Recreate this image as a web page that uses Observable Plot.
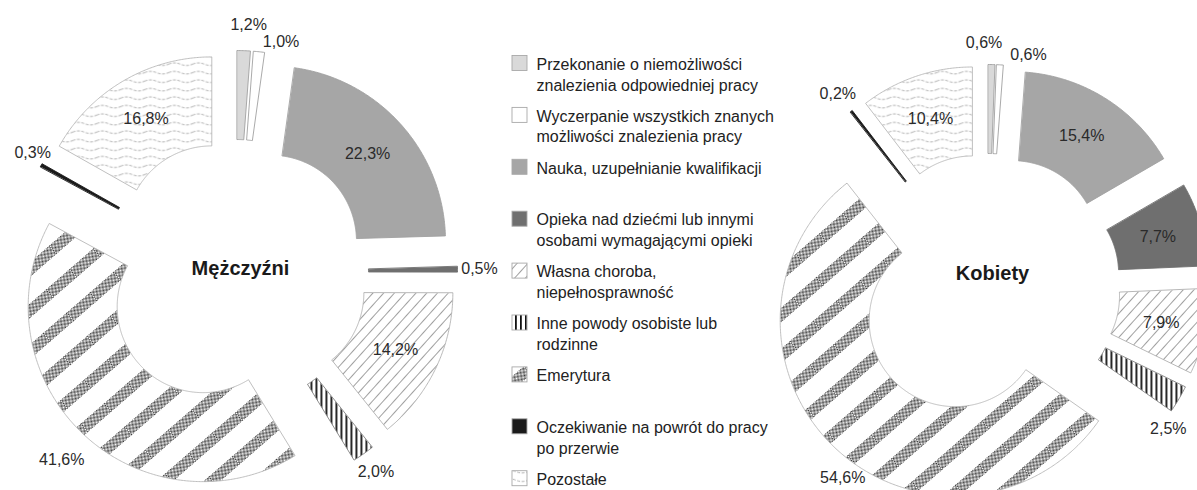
<!DOCTYPE html>
<html>
<head>
<meta charset="utf-8">
<script src="https://cdn.jsdelivr.net/npm/d3@7"></script>
<script src="https://cdn.jsdelivr.net/npm/@observablehq/plot@0.6"></script>
<style>
  html, body { margin: 0; padding: 0; background: #fff; }
  #chart svg { display: block; }
  #defs { position: absolute; width: 0; height: 0; overflow: hidden; }
</style>
</head>
<body>
<svg id="defs" width="0" height="0" aria-hidden="true">
  <defs>
    <pattern id="pChoroba" patternUnits="userSpaceOnUse" width="8" height="8" patternTransform="rotate(42)">
      <rect width="8" height="8" fill="#fff"/>
      <line x1="0.5" y1="0" x2="0.5" y2="8" stroke="#959595" stroke-width="0.9"/>
    </pattern>
    <pattern id="pInne" patternUnits="userSpaceOnUse" width="5" height="5">
      <rect width="5" height="5" fill="#fff"/>
      <rect x="0" y="0" width="1.8" height="5" fill="#111"/>
    </pattern>
    <pattern id="pCheck" patternUnits="userSpaceOnUse" width="2" height="2">
      <rect width="2" height="2" fill="#fff"/>
      <rect x="0" y="0" width="1" height="1" fill="#3a3a3a"/>
      <rect x="1" y="1" width="1" height="1" fill="#3a3a3a"/>
    </pattern>
    <pattern id="pEmer" patternUnits="userSpaceOnUse" width="31" height="31" patternTransform="rotate(49)">
      <rect width="31" height="31" fill="#fff"/>
      <rect x="0" y="0" width="11" height="31" fill="url(#pCheck)"/>
    </pattern>
    <pattern id="pPoz" patternUnits="userSpaceOnUse" width="24" height="8.5">
      <rect width="24" height="8.5" fill="#fff"/>
      <path d="M0,4.2 Q6,1.6 12,4.2 T24,4.2" fill="none" stroke="#9c9c9c" stroke-width="0.8" stroke-dasharray="3 1.5"/>
    </pattern>
  </defs>
</svg>
<div id="chart"></div>
<script>
// ---------- data ----------
const categories = [
  "Przekonanie o niemożliwości znalezienia odpowiedniej pracy",
  "Wyczerpanie wszystkich znanych możliwości znalezienia pracy",
  "Nauka, uzupełnianie kwalifikacji",
  "Opieka nad dziećmi lub innymi osobami wymagającymi opieki",
  "Własna choroba, niepełnosprawność",
  "Inne powody osobiste lub rodzinne",
  "Emerytura",
  "Oczekiwanie na powrót do pracy po przerwie",
  "Pozostałe"
];
const legendLabels = [
  "Przekonanie o niemożliwości\nznalezienia odpowiedniej pracy",
  "Wyczerpanie wszystkich znanych\nmożliwości znalezienia pracy",
  "Nauka, uzupełnianie kwalifikacji",
  "Opieka nad dziećmi lub innymi\nosobami wymagającymi opieki",
  "Własna choroba,\nniepełnosprawność",
  "Inne powody osobiste lub\nrodzinne",
  "Emerytura",
  "Oczekiwanie na powrót do pracy\npo przerwie",
  "Pozostałe"
];
const menValues   = [1.2, 1.0, 22.3, 0.5, 14.2, 2.0, 41.6, 0.3, 16.8];
const womenValues = [0.6, 0.6, 15.4, 7.7, 7.9, 2.5, 54.6, 0.2, 10.4];
const chartTitles = ["Mężczyźni", "Kobiety"];

// ---------- styles / layout ----------
const fills = ["#d9d9d9", "#ffffff", "#a6a6a6", "#6f6f6f", "url(#pChoroba)", "url(#pInne)", "url(#pEmer)", "#1a1a1a", "url(#pPoz)"];
const strokes = ["#a0a0a0", "#a0a0a0", "#a0a0a0", "#6f6f6f", "#b0b0b0", "#808080", "#b8b8b8", "#1a1a1a", "#b8b8b8"];
const W = 1197, H = 490;
const layout = [
  {cx: 235, cy: 272, titleDx: 5, titleDy: -4},
  {cx: 987, cy: 286, titleDx: 5, titleDy: -13}
];
const rIn = 86, rOut = 175, explode = 47, labelGap = 22;
const outsideCats = new Set(["Emerytura"]);
const labelNudge = {"0-0": [4, -4], "0-6": [-6, 10], "0-7": [9, -2], "1-0": [-8, 0], "1-5": [0, 18], "1-6": [23, 14]};
const legendX = 512, legendSwatch = 15, legendTextX = 536, legendTop = 54.5, legendStep = 51.9;

// ---------- geometry ----------
const series = [menValues, womenValues];
const dir = a => [Math.sin(a), -Math.cos(a)];
const slicePts = [];
const labels = [];
const titles = [];
series.forEach((vals, c) => {
  const {cx, cy} = layout[c];
  titles.push({x: cx + layout[c].titleDx, y: cy + layout[c].titleDy, text: chartTitles[c]});
  const total = d3.sum(vals);
  let cum = 0, prevBox = null;
  vals.forEach((v, i) => {
    const a0 = cum / total * 2 * Math.PI; cum += v;
    const a1 = cum / total * 2 * Math.PI;
    const am = (a0 + a1) / 2;
    const [ux, uy] = dir(am);
    const ox = cx + explode * ux, oy = cy + explode * uy;
    const n = Math.max(2, Math.ceil((a1 - a0) / (Math.PI / 360)));
    const key = c + "-" + i;
    for (let k = 0; k <= n; k++) {
      const [dx, dy] = dir(a0 + (a1 - a0) * k / n);
      slicePts.push({key, cat: i, x: ox + rOut * dx, y: oy + rOut * dy});
    }
    for (let k = n; k >= 0; k--) {
      const [dx, dy] = dir(a0 + (a1 - a0) * k / n);
      slicePts.push({key, cat: i, x: ox + rIn * dx, y: oy + rIn * dy});
    }
    const text = v.toFixed(1).replace(".", ",") + "%";
    const inside = v >= 5 && !outsideCats.has(categories[i]);
    let lx, ly;
    if (inside) {
      const r = (rIn + rOut) / 2;
      lx = ox + r * ux; ly = oy + r * uy;
    } else {
      const r = rOut + labelGap;
      lx = ox + r * ux; ly = oy + r * uy;
      const w = text.length * 8.6, h = 16;
      if (prevBox && Math.abs(lx - prevBox.x) < (w + prevBox.w) / 2 && Math.abs(ly - prevBox.y) < h) {
        lx = prevBox.x + prevBox.w / 2 + 2 + w / 2;
        ly = ly + 12;
      }
      lx = Math.max(w / 2 + 6, Math.min(W - w / 2 - 12, lx));
      ly = Math.max(h / 2 + 4, Math.min(H - h / 2 - 4, ly));
      prevBox = {x: lx, y: ly, w};
      const nd = labelNudge[key];
      if (nd) { lx += nd[0]; ly += nd[1]; }
    }
    labels.push({x: lx, y: ly, text});
  });
});

const legend = legendLabels.map((t, i) => ({i, text: t, fill: fills[i], top: legendTop + legendStep * i}));

// ---------- plot ----------
const sliceMarks = categories.map((cat, i) =>
  Plot.line(slicePts.filter(d => d.cat === i), {
    x: "x", y: "y", z: "key", curve: "linear-closed",
    fill: fills[i], stroke: strokes[i], strokeWidth: 0.9
  })
);

const plot = Plot.plot({
  width: W, height: H,
  marginTop: 0, marginRight: 0, marginBottom: 0, marginLeft: 0,
  x: {domain: [0, W], range: [0, W], axis: null},
  y: {domain: [0, H], range: [0, H], axis: null},
  color: {type: "identity"},
  style: {fontFamily: "'Liberation Sans', Arial, sans-serif", background: "#fff", overflow: "hidden"},
  marks: [
    ...sliceMarks,
    Plot.text(labels, {x: "x", y: "y", text: "text", fontSize: 16, fill: "#2a2a2a", textAnchor: "middle"}),
    Plot.text(titles, {x: "x", y: "y", text: "text", fontSize: 20, fontWeight: "bold", fill: "#1a1a1a", textAnchor: "middle"}),
    Plot.rect(legend, {
      x1: () => legendX, x2: () => legendX + legendSwatch,
      y1: d => d.top + 1, y2: d => d.top + 1 + legendSwatch,
      fill: "fill", stroke: "#a8a8a8", strokeWidth: 0.9
    }),
    Plot.text(legend, {
      x: () => legendTextX, y: "top", text: "text",
      textAnchor: "start", lineAnchor: "top", lineHeight: 1.3,
      fontSize: 16, fill: "#222"
    })
  ]
});
document.getElementById("chart").appendChild(plot);
</script>
</body>
</html>
